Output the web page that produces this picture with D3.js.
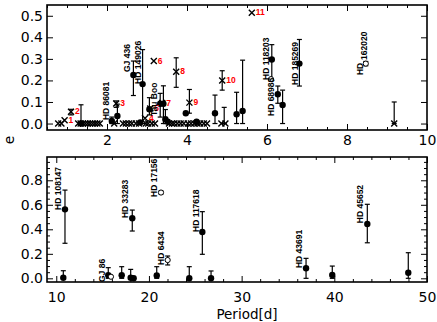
<!DOCTYPE html>
<html><head><meta charset="utf-8">
<script src="https://cdn.jsdelivr.net/npm/d3@7"></script>
<style>body{margin:0;background:#fff} svg{display:block}</style>
</head><body><svg id="c" width="437" height="322"></svg>
<script>
// ---------------- DATA ----------------
// Top panel (P < 10 d)
const topDotP  = [1.35, 2.12, 2.26, 2.66, 2.89, 2.83, 3.06, 3.33, 3.41, 3.46, 3.52, 3.97, 4.24, 4.70, 5.24, 5.39, 6.12, 6.27, 6.39, 6.81];
const topDotE  = [0.0, 0.012, 0.035, 0.225, 0.183, 0.005, 0.066, 0.092, 0.092, 0.020, 0.008, 0.048, 0.008, 0.048, 0.043, 0.058, 0.297, 0.136, 0.086, 0.278];
const topDotLo = [0.0, 0.0, 0.0, 0.13, 0.0, 0.005, 0.04, 0.03, 0.0, 0.0, 0.008, 0.048, 0.008, 0.0, 0.0, 0.0, 0.20, 0.094, 0.0, 0.174];
const topDotHi = [0.087, 0.03, 0.09, 0.29, 0.343, 0.005, 0.12, 0.14, 0.175, 0.065, 0.008, 0.048, 0.008, 0.132, 0.145, 0.294, 0.366, 0.174, 0.155, 0.39];

const topNumP  = [0.94, 1.10, 2.23, 2.95, 3.08, 3.17, 3.38, 3.73, 4.06, 4.88, 5.62];
const topNumE  = [0.015, 0.055, 0.093, 0.025, 0.07, 0.29, 0.095, 0.24, 0.097, 0.20, 0.514];
const topNumLo = [0.015, 0.04, 0.075, 0.025, 0.07, 0.29, 0.095, 0.168, 0.048, 0.155, 0.514];
const topNumHi = [0.015, 0.066, 0.105, 0.025, 0.07, 0.29, 0.095, 0.305, 0.158, 0.245, 0.514];
const topNumLabel = ["1","2","3","4","5","6","7","8","9","10","11"];

const topZeroP = [0.78, 0.86, 1.28, 1.34, 1.40, 1.46, 1.52, 1.58, 1.64, 1.70, 1.76, 1.82, 2.18, 2.40, 2.47, 2.55, 2.62, 2.72, 2.80, 2.97, 3.03, 3.12, 3.20, 3.55, 3.62, 3.68, 3.76, 3.84, 3.92, 4.02, 4.10, 4.18, 4.26, 4.33, 4.42, 4.50, 4.86, 4.96, 9.18];
const topZeroHiP = [4.93, 9.18];
const topZeroHi  = [0.075, 0.10];

const topOpenP  = [6.10, 8.47];
const topOpenE  = [0.206, 0.278];
const topOpenLo = [0.206, 0.268];
const topOpenHi = [0.206, 0.288];

const topNames  = ["HD 86081", "GJ 436", "HD 149026", "Tau Boo", "HD 118203", "HD 68988", "HD 185269", "HD", "162020"];
const topNameP  = [2.05, 2.575, 2.85, 3.25, 6.05, 6.175, 6.775, 8.39, 8.51];
const topNameE  = [0.016, 0.239, 0.184, 0.035, 0.202, 0.035, 0.179, 0.225, 0.295];

// Bottom panel (P > 10 d)
const botDotP  = [10.76, 10.94, 15.61, 17.06, 18.03, 18.20, 18.35, 20.84, 24.35, 25.76, 26.70, 36.95, 39.78, 43.56, 47.98];
const botDotE  = [0.005, 0.563, 0.025, 0.025, 0.005, 0.49, 0.0, 0.024, 0.0, 0.378, 0.0, 0.082, 0.027, 0.443, 0.046];
const botDotLo = [0.0, 0.286, 0.0, 0.0, 0.0, 0.386, 0.0, 0.0, 0.0, 0.196, 0.0, 0.0, 0.0, 0.29, 0.0];
const botDotHi = [0.062, 0.72, 0.087, 0.095, 0.073, 0.557, 0.0, 0.095, 0.095, 0.544, 0.06, 0.163, 0.10, 0.604, 0.209];

const botOpenP  = [15.90, 21.30, 22.02];
const botOpenE  = [0.013, 0.70, 0.149];
const botOpenLo = [0.013, 0.688, 0.109];
const botOpenHi = [0.013, 0.712, 0.182];

const botNames = ["HD 108147", "GJ 86", "HD 33283", "HD 17156", "HD 6434", "HD 117618", "HD 43691", "HD 45652"];
const botNameP = [10.56, 15.31, 17.79, 20.87, 21.57, 25.40, 36.51, 43.10];
const botNameE = [0.558, -0.03, 0.492, 0.664, 0.109, 0.378, 0.084, 0.45];

const topXTicks = [2, 4, 6, 8, 10];
const topYTicks = [0, 0.1, 0.2, 0.3, 0.4, 0.5];
const botXTicks = [10, 20, 30, 40, 50];
const botYTicks = [0, 0.2, 0.4, 0.6, 0.8];

// ---------------- DRAW ----------------
const svg = d3.select("#c");
const L = 47, R = 427;
const xT = d3.scaleLinear().domain([0.5, 10]).range([L, R]);
const yT = d3.scaleLinear().domain([-0.03, 0.55]).range([130, 5]);
const xB = d3.scaleLinear().domain([9, 50]).range([L, R]);
const yB = d3.scaleLinear().domain([-0.03, 0.99]).range([282, 157]);

const FONT = "'DejaVu Sans', Verdana, sans-serif";
const LFONT = "'Liberation Sans', Arial, sans-serif";

function styleAxis(g, labels) {
  g.select(".domain").remove();
  g.selectAll(".tick line").attr("stroke", "#000").attr("stroke-width", 1);
  g.selectAll(".tick text").attr("font-family", FONT).attr("font-size", 14).attr("fill", "#000");
  if (!labels) g.selectAll(".tick text").remove();
}

function panel(x, y, xMaj, xMin, yMaj, yMin, xPad, yFmt) {
  const [y1, y0] = y.range();
  const g = svg.append("g");
  g.append("g").attr("transform", `translate(0,${y1})`)
    .call(d3.axisBottom(x).tickValues(xMaj).tickSize(-6).tickPadding(xPad).tickFormat(d3.format("d")))
    .call(a => styleAxis(a, true));
  g.append("g").attr("transform", `translate(0,${y1})`)
    .call(d3.axisBottom(x).tickValues(xMin).tickSize(-3).tickFormat(""))
    .call(a => styleAxis(a, false));
  g.append("g").attr("transform", `translate(0,${y0})`)
    .call(d3.axisTop(x).tickValues(xMaj).tickSize(-6).tickFormat(""))
    .call(a => styleAxis(a, false));
  g.append("g").attr("transform", `translate(0,${y0})`)
    .call(d3.axisTop(x).tickValues(xMin).tickSize(-3).tickFormat(""))
    .call(a => styleAxis(a, false));
  g.append("g").attr("transform", `translate(${L},0)`)
    .call(d3.axisLeft(y).tickValues(yMaj).tickSize(-6).tickPadding(4).tickFormat(yFmt))
    .call(a => styleAxis(a, true));
  g.append("g").attr("transform", `translate(${R},0)`)
    .call(d3.axisRight(y).tickValues(yMaj).tickSize(-6).tickFormat(""))
    .call(a => styleAxis(a, false));
  if (yMin.length) {
    g.append("g").attr("transform", `translate(${L},0)`)
      .call(d3.axisLeft(y).tickValues(yMin).tickSize(-3).tickFormat(""))
      .call(a => styleAxis(a, false));
    g.append("g").attr("transform", `translate(${R},0)`)
      .call(d3.axisRight(y).tickValues(yMin).tickSize(-3).tickFormat(""))
      .call(a => styleAxis(a, false));
  }
  g.append("rect").attr("x", L).attr("y", y0).attr("width", R - L).attr("height", y1 - y0)
    .attr("fill", "none").attr("stroke", "#000").attr("stroke-width", 1.6);
}

const topMinX = d3.range(0.5, 10.01, 0.5).filter(v => !topXTicks.includes(v));
const botMinX = d3.range(10, 50.01, 2).filter(v => !botXTicks.includes(v));
const botMinY = d3.range(0, 0.951, 0.05).filter(v => !botYTicks.some(t => Math.abs(t - v) < 1e-6));

panel(xT, yT, topXTicks, topMinX, topYTicks, [], 5, d3.format(".1f"));
panel(xB, yB, botXTicks, botMinX, botYTicks, botMinY, 10, d3.format(".1f"));

function errBars(x, y, P, lo, hi) {
  const g = svg.append("g").attr("stroke", "#000").attr("stroke-width", 1.2);
  P.forEach((p, i) => {
    if (hi[i] - lo[i] < 1e-9) return;
    const cx = x(p), ya = y(lo[i]), yb = y(hi[i]);
    g.append("line").attr("x1", cx).attr("x2", cx).attr("y1", ya).attr("y2", yb);
    g.append("line").attr("x1", cx - 2.5).attr("x2", cx + 2.5).attr("y1", ya).attr("y2", ya);
    g.append("line").attr("x1", cx - 2.5).attr("x2", cx + 2.5).attr("y1", yb).attr("y2", yb);
  });
}
function dots(x, y, P, E, open) {
  svg.append("g").selectAll("circle").data(P).join("circle")
    .attr("cx", d => x(d)).attr("cy", (d, i) => y(E[i])).attr("r", open ? 2.6 : 3.2)
    .attr("fill", open ? "#fff" : "#000").attr("stroke", "#000").attr("stroke-width", open ? 1 : 0);
}
function crosses(x, y, P, E) {
  svg.append("g").selectAll("path").data(P).join("path")
    .attr("d", "M-3,-3L3,3M-3,3L3,-3")
    .attr("transform", (d, i) => `translate(${x(d)},${y(E[i])})`)
    .attr("stroke", "#000").attr("stroke-width", 1.4).attr("fill", "none");
}
function names(x, y, N, P, E) {
  svg.append("g").selectAll("text").data(N).join("text")
    .attr("transform", (d, i) => `translate(${x(P[i])},${y(E[i])}) rotate(-90)`)
    .attr("font-family", LFONT).attr("font-weight", "bold").attr("font-size", 8.5)
    .attr("fill", "#000").text(d => d);
}

// top panel marks
errBars(xT, yT, topDotP, topDotLo, topDotHi);
errBars(xT, yT, topNumP, topNumLo, topNumHi);
errBars(xT, yT, topZeroHiP, topZeroHiP.map(() => 0), topZeroHi);
errBars(xT, yT, topOpenP, topOpenLo, topOpenHi);
crosses(xT, yT, topZeroP, topZeroP.map(() => 0));
dots(xT, yT, topDotP, topDotE, false);
crosses(xT, yT, topNumP, topNumE);
dots(xT, yT, topOpenP, topOpenE, true);
svg.append("g").selectAll("text").data(topNumLabel).join("text")
  .attr("x", (d, i) => xT(topNumP[i]) + 4).attr("y", (d, i) => yT(topNumE[i]) + 2.5)
  .attr("font-family", LFONT).attr("font-weight", "bold").attr("font-size", 8.5)
  .attr("fill", "#f00").text(d => d);
names(xT, yT, topNames, topNameP, topNameE);

// bottom panel marks
errBars(xB, yB, botDotP, botDotLo, botDotHi);
errBars(xB, yB, botOpenP, botOpenLo, botOpenHi);
dots(xB, yB, botDotP, botDotE, false);
dots(xB, yB, botOpenP, botOpenE, true);
names(xB, yB, botNames, botNameP, botNameE);

// titles
svg.append("text").attr("x", 247).attr("y", 319).attr("text-anchor", "middle")
  .attr("font-family", FONT).attr("font-size", 13.5).attr("fill", "#000").text("Period[d]");
svg.append("text").attr("transform", "translate(14,140) rotate(-90)").attr("text-anchor", "middle")
  .attr("font-family", FONT).attr("font-size", 14).attr("fill", "#000").text("e");
</script></body></html>
